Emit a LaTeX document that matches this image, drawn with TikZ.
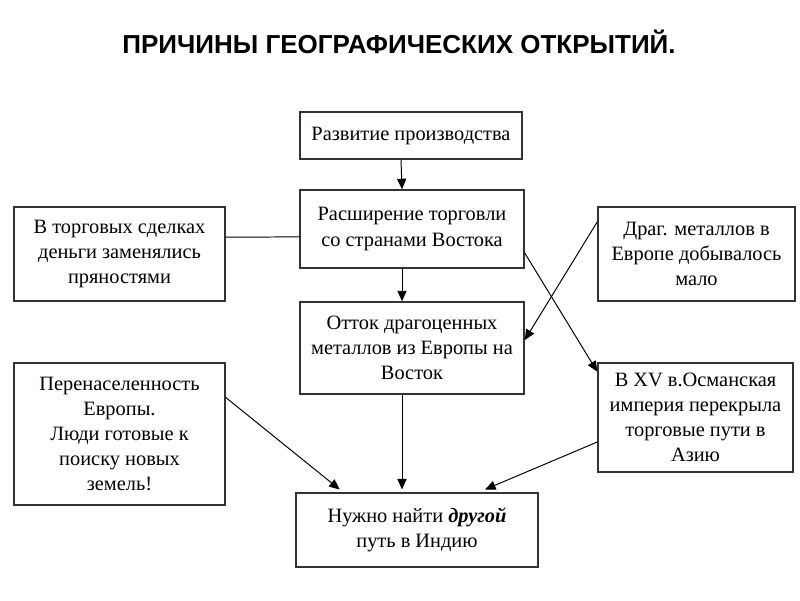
\documentclass[tikz,border=0pt]{standalone}
\usepackage{fontspec}
\setmainfont{Liberation Serif}
\newfontfamily\titlefont{Liberation Sans}
\usetikzlibrary{arrows.meta}
\tikzset{
  cause/.style={draw=black!80, line width=1pt, align=center, inner sep=2pt,
    font=\fontsize{14.5}{17.8}\selectfont},
  link/.style={line width=0.7pt, -{Triangle[length=7.5pt,width=6.5pt]}}
}
\begin{document}
\begin{tikzpicture}
      \useasboundingbox (0,0) rectangle (20,-15);
      \node (title) at (9.975,-1.05) {\titlefont\bfseries\fontsize{18.5}{20}\selectfont ПРИЧИНЫ ГЕОГРАФИЧЕСКИХ ОТКРЫТИЙ.};
      \draw
        (10.275,-3.3875) node[cause, minimum width=5.55cm, minimum height=1.175cm] (prod){Развитие производства}
        (10.3,-5.725) node[cause, minimum width=5.6cm, minimum height=1.95cm] (trade){Расширение торговли\\со странами Востока}
        (2.9875,-6.35) node[cause, minimum width=5.275cm, minimum height=2.35cm] (money){В торговых сделках\\деньги заменялись\\пряностями}
        (17.4125,-6.35) node[cause, minimum width=4.925cm, minimum height=2.35cm] (metal){Драг. металлов в\\Европе добывалось\\мало}
        (10.3,-8.7) node[cause, minimum width=5.6cm, minimum height=2.3cm] (outflow){Отток драгоценных\\металлов из Европы на\\Восток}
        (2.9875,-10.85) node[cause, minimum width=5.275cm, minimum height=3.55cm] (people){Перенаселенность\\Европы.\\Люди готовые к\\поиску новых\\земель!}
        (17.3875,-10.4375) node[cause, minimum width=4.875cm, minimum height=2.725cm] (ottoman){В XV в.Османская\\империя перекрыла\\торговые пути в\\Азию}
        (10.425,-13.25) node[cause, minimum width=6.05cm, minimum height=1.85cm] (india){Нужно найти \textbf{\textit{другой}}\\путь в Индию};
      \begin{scope}[link]
        \draw ([xshift=-0.25cm]prod.south) to ([xshift=-0.25cm]trade.north);
        \draw ([xshift=-0.25cm]trade.south) to ([xshift=-0.25cm]outflow.north);
        \draw ([xshift=-0.25cm]outflow.south) to ([xshift=-0.25cm,yshift=2pt]outflow.south |- india.north);
        \draw (trade.-12.6) to (ottoman.155.7);
        \draw (metal.162) to (outflow.4);
        \draw (people.19.8) to ([yshift=2pt]india.154.9);
        \draw (ottoman.-166) to ([yshift=2pt]india.29.6);
      \end{scope}
      \begin{scope}[-]
        \draw[line width=0.7pt] (money.9) to (trade.184);
      \end{scope}
    \end{tikzpicture}
\end{document}
